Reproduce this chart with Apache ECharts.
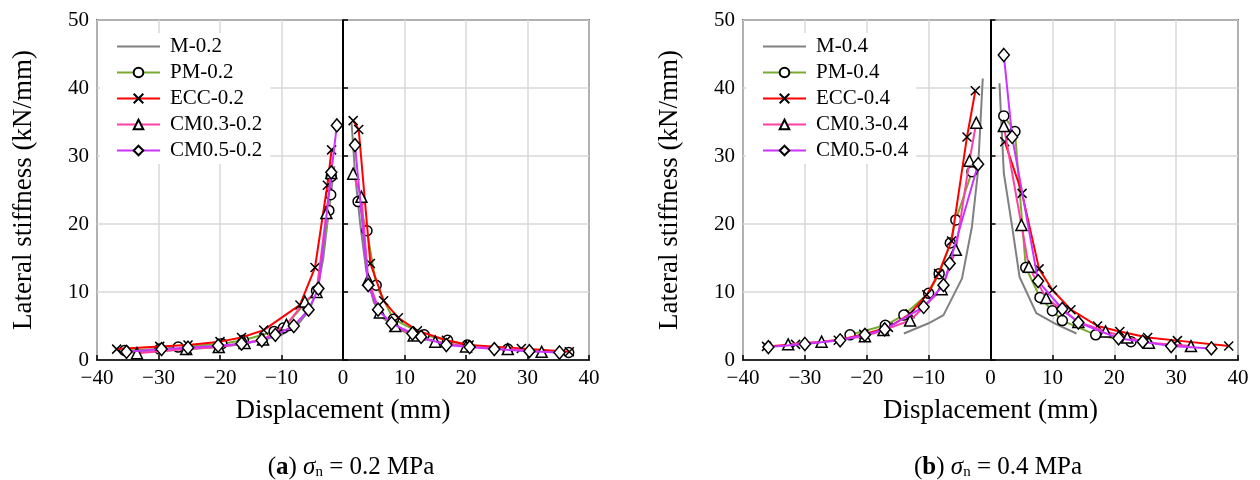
<!DOCTYPE html>
<html>
<head>
<meta charset="utf-8">
<script src="https://cdn.jsdelivr.net/npm/echarts@6/dist/echarts.min.js"></script>
<style>
  html, body { margin: 0; padding: 0; background: #fff; }
  #chart { width: 1260px; height: 480px; }
</style>
</head>
<body>
<div id="chart"></div>
<script>
// Lateral stiffness vs displacement, [displacement (mm), stiffness (kN/mm)]
// Each specimen: negative branch and positive branch drawn as separate segments.

// ---- sigma_n = 0.2 MPa ----
const M02_neg = [[-35,1.1],[-30,1.3],[-25,1.6],[-20,1.9],[-16,2.4],[-12.5,3.1],[-10,3.7],[-7.5,5.0],[-5.5,7.3],[-4.2,10.2],[-3.2,15],[-2.3,22],[-1.4,28.5]];
const M02_pos = [[1.4,34.8],[2.0,27],[2.8,20],[3.8,13],[5.0,8.5],[6.5,6.2],[8.5,4.8],[11,3.7],[14,2.9],[18,2.3],[23,1.8],[29,1.4],[35,1.1]];

const PM02_neg = [[-35.5,1.4],[-29.8,1.6],[-26.8,1.9],[-19.7,2.4],[-16.2,2.9],[-11.2,4.2],[-9.7,4.7],[-4.3,10.2],[-2.3,22.0],[-2.0,24.3],[-1.9,27.0]];
const PM02_pos = [[2.45,23.3],[3.9,19.0],[5.4,11.0],[8.2,6.0],[13.2,3.7],[17,2.9],[20.2,2.2],[26.8,1.6],[36.7,1.1]];

const ECC02_neg = [[-36.8,1.6],[-29.8,2.0],[-25.2,2.2],[-20,2.7],[-16.5,3.3],[-12.9,4.4],[-7.0,8.1],[-4.55,13.6],[-2.55,25.7],[-1.85,30.9]];
const ECC02_pos = [[1.65,35.2],[2.55,33.9],[4.45,14.2],[6.6,8.7],[9.0,6.2],[12.1,4.3],[16.8,2.9],[20.5,2.2],[29,1.7],[36.8,1.2]];

const CM0302_neg = [[-33.5,1.0],[-25.5,1.6],[-20.2,1.9],[-16,2.5],[-13,3.0],[-9.2,5.2],[-6.2,8.6],[-4.3,10.0],[-2.7,21.6],[-1.9,27.5]];
const CM0302_pos = [[1.65,27.4],[3.0,24.0],[4.1,11.8],[6.0,7.0],[8.5,5.0],[11.5,3.6],[15,2.7],[20,2.0],[26.8,1.6],[32.3,1.2]];

const CM0502_neg = [[-35.2,1.2],[-29.5,1.6],[-25.2,1.8],[-20.3,2.1],[-16.5,2.4],[-13.2,2.9],[-11,3.7],[-8,5.0],[-5.6,7.4],[-4.0,10.5],[-1.9,27.6],[-1.0,34.5]];
const CM0502_pos = [[1.95,31.6],[4.1,11.0],[5.7,7.4],[7.9,5.4],[11.3,3.9],[12.7,3.4],[16.8,2.2],[20.6,1.9],[24.6,1.6],[30.3,1.3],[35.2,1.1]];

// ---- sigma_n = 0.4 MPa ----
const M04_neg = [[-14,3.9],[-10,5.4],[-7.6,6.6],[-4.6,12],[-3.0,19.6],[-2.05,27.5],[-1.25,41.4]];
const M04_pos = [[1.45,40.7],[2.15,27.5],[3.5,19.6],[4.7,12.2],[7.4,6.9],[10.5,5.3],[13.9,3.9]];

const PM04_neg = [[-22.7,3.7],[-17,5.1],[-14,6.6],[-10,9.8],[-8.3,12.7],[-6.5,17.2],[-5.6,20.6],[-3.0,27.7]];
const PM04_pos = [[2.15,35.9],[3.95,33.6],[5.7,13.6],[8.0,9.2],[10,7.25],[11.6,5.8],[17,3.7],[22.7,2.7]];

const ECC04_neg = [[-36.2,2.0],[-31.5,2.3],[-24.6,2.9],[-20.5,3.8],[-16.5,4.8],[-13,6.8],[-10.3,9.6],[-8.4,12.7],[-6.3,17.5],[-3.8,32.8],[-2.45,39.6]];
const ECC04_pos = [[2.3,32.1],[5.1,24.5],[7.85,13.4],[10,10.3],[13,7.4],[17.3,5.0],[20.9,4.2],[25.4,3.3],[30.2,2.85],[38.5,2.05]];

const CM0304_neg = [[-32.7,2.3],[-27.3,2.7],[-20.3,3.5],[-17.3,4.4],[-13,5.8],[-7.9,10.4],[-5.6,16.2],[-3.4,29.3],[-2.3,34.9]];
const CM0304_pos = [[2.15,34.4],[5.0,19.85],[6.2,13.7],[9.0,9.1],[14.2,5.6],[18.6,4.2],[22.1,3.3],[25.6,2.55],[32.4,2.05]];

const CM0504_neg = [[-35.9,1.9],[-30,2.35],[-24.3,2.9],[-20.3,3.7],[-17.1,4.5],[-10.8,7.8],[-7.6,11.0],[-6.6,14.2],[-2.0,28.8]];
const CM0504_pos = [[2.15,44.85],[3.5,32.8],[7.7,11.6],[11.6,7.5],[14.2,5.5],[20.7,3.2],[24.6,2.7],[29.2,2.05],[35.7,1.7]];

const namesA = ['M-0.2', 'PM-0.2', 'ECC-0.2', 'CM0.3-0.2', 'CM0.5-0.2'];
const namesB = ['M-0.4', 'PM-0.4', 'ECC-0.4', 'CM0.3-0.4', 'CM0.5-0.4'];
const captionA = '({b|a}) {i|σ}{s|n} = 0.2 MPa';
const captionB = '({b|b}) {i|σ}{s|n} = 0.4 MPa';

const FONT = "'Liberation Serif', 'Times New Roman', serif";
const lineColors = ['#808080', '#77ac30', '#ff0000', '#ff3fa5', '#cc33ff'];
const crossPath = 'path://M0,0L10,10M10,0L0,10';
const markers = ['none', 'circle', crossPath, 'triangle', 'diamond'];
const markerSizes = [0, 10, 9, 11, [11, 13]];

const groupsA = [[M02_neg, M02_pos], [PM02_neg, PM02_pos], [ECC02_neg, ECC02_pos], [CM0302_neg, CM0302_pos], [CM0502_neg, CM0502_pos]];
const groupsB = [[M04_neg, M04_pos], [PM04_neg, PM04_pos], [ECC04_neg, ECC04_pos], [CM0304_neg, CM0304_pos], [CM0504_neg, CM0504_pos]];

function joinBranches(neg, pos) {
  return neg.concat([['-', '-']], pos);
}

function makeSeries(names, groups, axisIdx) {
  return names.map((name, i) => {
    const s = {
      name: name,
      type: 'line',
      xAxisIndex: axisIdx,
      yAxisIndex: axisIdx,
      data: joinBranches(groups[i][0], groups[i][1]),
      connectNulls: false,
      color: lineColors[i],
      lineStyle: { color: lineColors[i], width: 2 },
      symbol: markers[i],
      symbolSize: markerSizes[i],
      showSymbol: i !== 0,
      itemStyle: { color: '#fff', borderColor: '#000', borderWidth: 1.5 },
      emphasis: { disabled: true },
      animation: false,
      z: 3 + i
    };
    if (i === 0) {
      s.markLine = {
        silent: true,
        symbol: 'none',
        label: { show: false },
        lineStyle: { color: '#000', width: 2, type: 'solid' },
        data: [{ xAxis: 0 }],
        animation: false
      };
    }
    return s;
  });
}

function xAxisDef(gridIndex) {
  return {
    gridIndex: gridIndex,
    type: 'value',
    min: -40, max: 40, interval: 10,
    name: 'Displacement (mm)',
    nameLocation: 'middle',
    nameGap: 37,
    nameTextStyle: { fontFamily: FONT, fontSize: 27, color: '#000' },
    axisLine: { show: true, onZero: false, lineStyle: { color: '#000', width: 1.5 } },
    axisTick: { show: true, inside: true, length: 5, lineStyle: { color: '#000', width: 1.5 } },
    axisLabel: {
      fontFamily: FONT, fontSize: 21, color: '#000', margin: 8,
      formatter: v => (v < 0 ? '\u2212' + Math.abs(v) : String(v))
    },
    splitLine: { show: true, lineStyle: { color: '#d9d9d9', width: 1.5 } }
  };
}

function yAxisDef(gridIndex) {
  return {
    gridIndex: gridIndex,
    type: 'value',
    min: 0, max: 50, interval: 10,
    name: 'Lateral stiffness (kN/mm)',
    nameLocation: 'middle',
    nameGap: 60,
    nameTextStyle: { fontFamily: FONT, fontSize: 27, color: '#000' },
    axisLine: { show: true, lineStyle: { color: '#000', width: 1.5 } },
    axisTick: { show: true, inside: true, length: 5, lineStyle: { color: '#000', width: 1.5 } },
    axisLabel: { fontFamily: FONT, fontSize: 21, color: '#000', margin: 8 },
    splitLine: { show: true, lineStyle: { color: '#d9d9d9', width: 1.5 } }
  };
}

function legendDef(names, left) {
  // the first entry (no markers) shows only its line
  const items = names.map((n, i) => (i === 0 ? { name: n, itemStyle: { opacity: 0 } } : { name: n }));
  return {
    data: items,
    orient: 'vertical',
    left: left,
    top: 33,
    padding: [3, 8, 3, 16],
    backgroundColor: '#fff',
    itemWidth: 43,
    itemHeight: 12,
    itemGap: 5,
    selectedMode: false,
    textStyle: { fontFamily: FONT, fontSize: 21, color: '#000', lineHeight: 21, padding: [0, 0, 0, 5] }
  };
}

const captionRich = {
  b: { fontFamily: FONT, fontSize: 25, fontWeight: 'bold', color: '#000' },
  i: { fontFamily: FONT, fontSize: 25, fontStyle: 'italic', color: '#000' },
  s: { fontFamily: FONT, fontSize: 15, color: '#000', verticalAlign: 'bottom', padding: [8, 0, 0, 0] }
};

const chart = echarts.init(document.getElementById('chart'), null, { renderer: 'canvas' });
chart.setOption({
  backgroundColor: '#fff',
  animation: false,
  title: [
    { text: captionA, left: 346, top: 450, textAlign: 'center',
      textStyle: { fontFamily: FONT, fontSize: 25, fontWeight: 'normal', color: '#000', rich: captionRich } },
    { text: captionB, left: 993, top: 450, textAlign: 'center',
      textStyle: { fontFamily: FONT, fontSize: 25, fontWeight: 'normal', color: '#000', rich: captionRich } }
  ],
  grid: [
    { left: 97, top: 20, width: 492, height: 340, show: true, borderColor: '#000', borderWidth: 1.5, backgroundColor: 'transparent' },
    { left: 743, top: 20, width: 495, height: 340, show: true, borderColor: '#000', borderWidth: 1.5, backgroundColor: 'transparent' }
  ],
  xAxis: [xAxisDef(0), xAxisDef(1)],
  yAxis: [yAxisDef(0), yAxisDef(1)],
  legend: [legendDef(namesA, 100), legendDef(namesB, 746)],
  series: makeSeries(namesA, groupsA, 0).concat(makeSeries(namesB, groupsB, 1))
});
</script>
</body>
</html>
